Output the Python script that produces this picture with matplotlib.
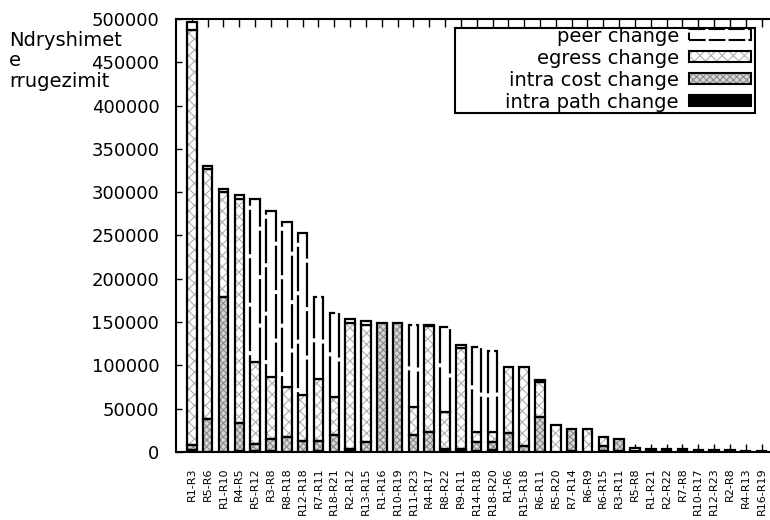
import numpy as np
import matplotlib.pyplot as plt
from matplotlib.patches import Patch, Rectangle
from matplotlib.legend_handler import HandlerTuple

pairs = ['R1-R3', 'R5-R6', 'R1-R10', 'R4-R5', 'R5-R12', 'R3-R8', 'R8-R18', 'R12-R18',
         'R7-R11', 'R18-R21', 'R2-R12', 'R13-R15', 'R1-R16', 'R10-R19', 'R11-R23',
         'R4-R17', 'R8-R22', 'R9-R11', 'R14-R18', 'R18-R20', 'R1-R6', 'R15-R18',
         'R6-R11', 'R5-R20', 'R7-R14', 'R6-R9', 'R6-R15', 'R3-R11', 'R5-R8', 'R1-R21',
         'R2-R22', 'R7-R8', 'R10-R17', 'R12-R23', 'R2-R8', 'R4-R13', 'R16-R19']

intra_path = [2000, 0, 0, 1000, 1000, 1000, 0, 0, 1000, 0, 1000, 0, 0, 0, 0, 0, 1000,
              1000, 1000, 2000, 0, 0, 0, 0, 1000, 0, 1000, 1000, 1000, 1000, 1000, 1000,
              2500, 2500, 2500, 800, 800]
intra_cost = [6000, 38000, 179000, 33000, 8000, 14000, 17000, 13000, 12000, 20000, 3000,
              11500, 149000, 149000, 20000, 23000, 2000, 2000, 10000, 10000, 22000, 7000,
              40000, 0, 25500, 0, 6000, 14000, 0, 0, 0, 0, 0, 0, 0, 0, 0]
egress = [479000, 289000, 121000, 258000, 95000, 72000, 58000, 53000, 71000, 44000,
          145500, 135500, 0, 0, 32000, 122000, 43000, 117000, 12000, 11000, 76000, 91000,
          41000, 31000, 0, 26500, 10500, 0, 0, 0, 0, 0, 0, 0, 0, 0, 0]
peer = [10000, 3000, 4000, 5000, 188000, 191000, 191000, 187000, 95000, 96000, 4000,
        4000, 0, 0, 95000, 2000, 98000, 3500, 98000, 94000, 0, 0, 2000, 0, 0, 0, 0, 0,
        4000, 3000, 3000, 3000, 0, 0, 0, 0, 0]

series = ['peer change', 'egress change', 'intra cost change', 'intra path change']

plt.rcParams['font.family'] = 'DejaVu Sans'
plt.rcParams['hatch.linewidth'] = 0.8

fig = plt.figure(figsize=(7.7, 5.2), dpi=100)
ax = fig.add_axes([0.2286, 0.1308, 0.781, 0.8327])

x = np.arange(len(pairs))
w = 0.6
dash = (0, (20, 1.8))


def stack(vals, bottom, face, hatch=None, hcol=None, ls='-'):
    vals = np.array(vals, float)
    keep = vals > 0
    if hatch:
        ax.bar(x[keep], vals[keep], w, bottom=bottom[keep], color=face,
               edgecolor=hcol, hatch=hatch, lw=0, zorder=2)
        face = 'none'
    ax.bar(x[keep], vals[keep], w, bottom=bottom[keep], color=face,
           edgecolor='black', lw=1.6, linestyle=ls, zorder=3)
    return bottom + vals


bottom = np.zeros(len(pairs))
bottom = stack(intra_path, bottom, 'black')
bottom = stack(intra_cost, bottom, '#d6d6d6', 'xxxxx', '#8a8a8a')
bottom = stack(egress, bottom, 'white', 'xxx', '#b0b0b0')
bottom = stack(peer, bottom, 'white', ls=dash)

ax.set_xlim(-1, 37)
ax.set_ylim(0, 500000)
ax.set_xticks(x, pairs, rotation=90, fontsize=8)
yt = np.arange(0, 500001, 50000)
ax.set_yticks(yt, [str(v) for v in yt], fontsize=13)
ax.tick_params(axis='x', direction='in', length=6, width=1, top=True, pad=11)
ax.tick_params(axis='y', direction='in', length=4, width=1, pad=12)
for s in ax.spines.values():
    s.set_linewidth(1.5)

fig.text(9 / 770, 1 - 31 / 520, 'Ndryshimet\ne\nrrugezimit', ha='left', va='top',
         fontsize=14, linespacing=1.1)

# key box drawn separately so it can be wider than the entries
ax.add_patch(Rectangle((0.464, 0.783), 0.499, 0.196, transform=ax.transAxes,
                       facecolor='white', edgecolor='black', lw=1.5, zorder=5))

h_peer = Patch(facecolor='white', edgecolor='black', lw=1.5, linestyle=(0, (8, 1.5)))
h_egress = (Patch(facecolor='white', edgecolor='#b0b0b0', hatch='xxx', lw=0),
            Patch(facecolor='none', edgecolor='black', lw=1.5))
h_cost = (Patch(facecolor='#d6d6d6', edgecolor='#8a8a8a', hatch='xxxxx', lw=0),
          Patch(facecolor='none', edgecolor='black', lw=1.5))
h_path = Patch(facecolor='black', edgecolor='black', lw=1.5)

leg = ax.legend([h_peer, h_egress, h_cost, h_path], series,
                handler_map={tuple: HandlerTuple(ndivide=1, pad=0)},
                loc='upper right', bbox_to_anchor=(0.956, 0.982), markerfirst=False,
                frameon=False, fontsize=14, handlelength=3.2, handleheight=0.5,
                handletextpad=0.5, labelspacing=0.15, borderpad=0, borderaxespad=0)
leg.set_zorder(6)

fig.savefig('out.png', dpi=100)
